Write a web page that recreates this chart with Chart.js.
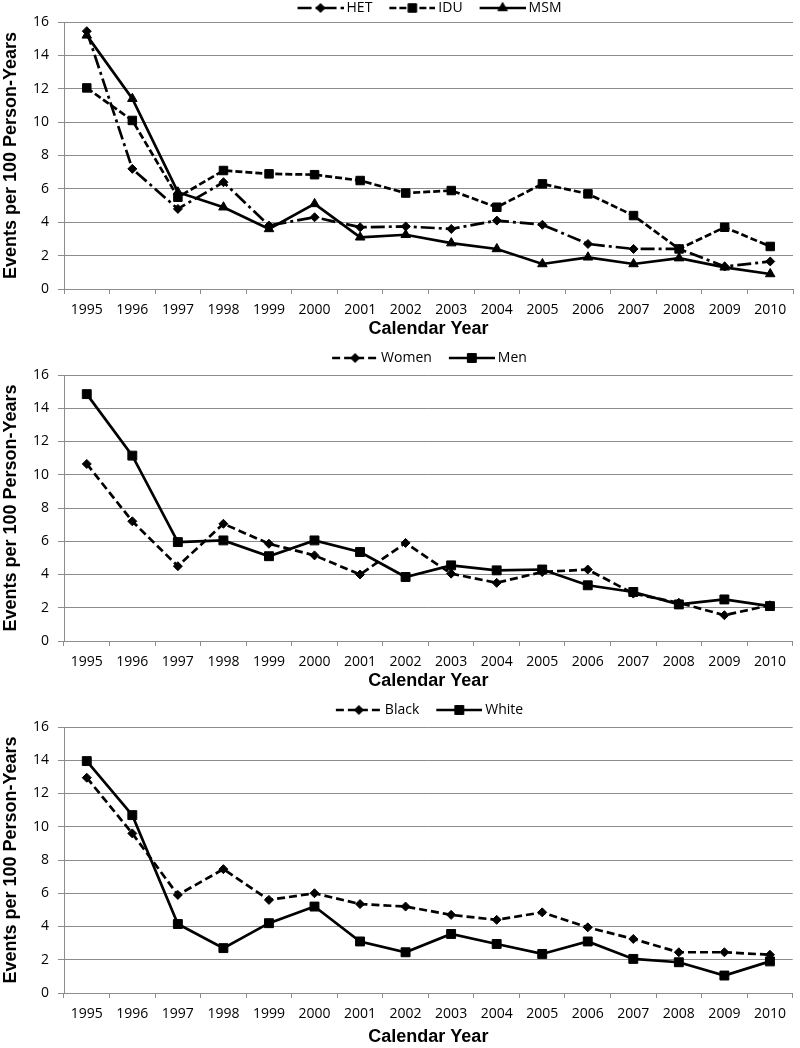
<!DOCTYPE html>
<html>
<head>
<meta charset="utf-8">
<script src="https://cdn.jsdelivr.net/npm/chart.js@4/dist/chart.umd.min.js"></script>
<style>
  body { margin: 0; background: #fff; width: 800px; height: 1048px; overflow: hidden; }
  canvas { display: block; }
</style>
</head>
<body>
<canvas id="riskChart" width="800" height="340"></canvas>
<canvas id="sexChart" width="800" height="356"></canvas>
<canvas id="raceChart" width="800" height="352"></canvas>
<script>
const years = ["1995", "1996", "1997", "1998", "1999", "2000", "2001", "2002",
  "2003", "2004", "2005", "2006", "2007", "2008", "2009", "2010"];
const yMin = 0;
const yMax = 16;
const yStep = 2;

// panel 1: transmission risk group
const het = [15.45, 7.2, 4.8, 6.4, 3.8, 4.3, 3.7, 3.75, 3.6, 4.1, 3.85, 2.7, 2.4, 2.4, 1.35, 1.65];
const idu = [12.05, 10.1, 5.5, 7.1, 6.9, 6.85, 6.5, 5.75, 5.9, 4.9, 6.3, 5.7, 4.4, 2.4, 3.7, 2.55];
const msm = [15.2, 11.4, 5.8, 4.9, 3.6, 5.1, 3.1, 3.25, 2.75, 2.4, 1.5, 1.9, 1.5, 1.85, 1.3, 0.9];

// panel 2: sex
const women = [10.65, 7.2, 4.5, 7.05, 5.85, 5.15, 4.0, 5.9, 4.05, 3.5, 4.15, 4.3, 2.85, 2.3, 1.55, 2.15];
const men = [14.85, 11.15, 5.95, 6.05, 5.1, 6.05, 5.35, 3.85, 4.55, 4.25, 4.3, 3.35, 2.95, 2.2, 2.5, 2.1];

// panel 3: race
const black = [12.95, 9.6, 5.9, 7.45, 5.6, 6.0, 5.35, 5.2, 4.7, 4.4, 4.85, 3.95, 3.25, 2.45, 2.45, 2.3];
const white = [13.95, 10.7, 4.15, 2.7, 4.2, 5.2, 3.1, 2.45, 3.55, 2.95, 2.35, 3.1, 2.05, 1.85, 1.05, 1.9];

const gridColor = "#8c8c8c";
const titleFont = { family: "'Liberation Sans', Arial, sans-serif", size: 18, weight: "bold" };
const tickFont = { family: "'Open Sans', sans-serif", size: 14 };

Chart.defaults.color = "#000";
Chart.defaults.font.family = "'Open Sans', sans-serif";

function series(label, data, pointStyle, radius, dash) {
  return {
    label,
    data,
    pointStyle,
    pointRadius: radius,
    pointHoverRadius: radius,
    pointBorderWidth: 1,
    pointBackgroundColor: "#000",
    pointBorderColor: "#000",
    borderColor: "#000",
    borderWidth: 2.7,
    borderDash: dash,
    tension: 0,
    fill: false,
  };
}

// legend sample: dashed segment with marker, drawn into a small canvas
function legendIcon(ds) {
  const c = document.createElement("canvas");
  c.width = 65;
  c.height = 14;
  const ctx = c.getContext("2d");
  ctx.strokeStyle = "#000";
  ctx.fillStyle = "#000";
  ctx.lineWidth = ds.borderWidth;
  ctx.setLineDash(ds.borderDash);
  ctx.beginPath();
  ctx.moveTo(19, 7);
  ctx.lineTo(65, 7);
  ctx.stroke();
  ctx.setLineDash([]);
  ctx.lineWidth = 1;
  Chart.helpers.drawPoint(ctx, {
    pointStyle: ds.pointStyle,
    radius: ds.pointRadius,
    rotation: 0,
    borderWidth: 1,
  }, 42, 7);
  return c;
}

// center the legend over the plot area instead of the whole canvas
const legendOverPlot = {
  id: "legendOverPlot",
  afterLayout(chart, args, opts) {
    if (!chart.legend) return;
    chart.legend.left = chart.chartArea.left - 18;
    chart.legend.top += opts.dy || 0;
  },
};

function makeChart(id, datasets, topPad, legendDy, axisHeight, titlePad) {
  new Chart(document.getElementById(id), {
    type: "line",
    data: { labels: years, datasets },
    plugins: [legendOverPlot],
    options: {
      responsive: false,
      animation: false,
      events: [],
      layout: { padding: { top: topPad, right: 2, left: 0, bottom: 0 } },
      plugins: {
        legendOverPlot: { dy: legendDy },
        tooltip: { enabled: false },
        legend: {
          display: true,
          position: "top",
          labels: {
            usePointStyle: true,
            pointStyleWidth: 57,
            padding: 2,
            font: { family: "'Open Sans', sans-serif", size: 14 },
            color: "#000",
            generateLabels: (chart) =>
              chart.data.datasets.map((ds, i) => ({
                text: ds.label,
                pointStyle: legendIcon(ds),
                fontColor: "#000",
                lineWidth: 0,
                hidden: false,
                datasetIndex: i,
              })),
          },
        },
      },
      scales: {
        x: {
          type: "category",
          offset: true,
          afterFit: (scale) => {
            scale.height = axisHeight;
          },
          grid: {
            offset: true,
            drawOnChartArea: false,
            drawTicks: true,
            tickLength: 5,
            color: gridColor,
          },
          border: { color: gridColor, width: 1 },
          ticks: { font: tickFont, color: "#000", padding: 8, maxRotation: 0, autoSkip: false },
          title: {
            display: true,
            text: "Calendar Year",
            font: titleFont,
            color: "#000",
            padding: { top: 0, bottom: titlePad },
          },
        },
        y: {
          min: yMin,
          max: yMax,
          afterFit: (scale) => {
            scale.width = 64;
          },
          grid: { color: gridColor, tickLength: 6, lineWidth: 1 },
          border: { color: gridColor, width: 1 },
          ticks: { stepSize: yStep, font: tickFont, color: "#000", padding: 9 },
          title: {
            display: true,
            text: "Events per 100 Person-Years",
            font: titleFont,
            color: "#000",
            padding: { top: 0, bottom: 0 },
          },
        },
      },
    },
  });
}

makeChart("riskChart", [
  series("HET", het, "rectRot", 4.5, [14, 4, 3, 4]),
  series("IDU", idu, "rect", 6, [7, 3]),
  series("MSM", msm, "triangle", 5.5, []),
], -4, 3, 51, 0);

makeChart("sexChart", [
  series("Women", women, "rectRot", 4.5, [8, 4]),
  series("Men", men, "rect", 6.3, []),
], 9, 0, 55, 4);

makeChart("raceChart", [
  series("Black", black, "rectRot", 4.5, [8, 4]),
  series("White", white, "rect", 6.3, []),
], 5, 0, 55, 0);
</script>
</body>
</html>
